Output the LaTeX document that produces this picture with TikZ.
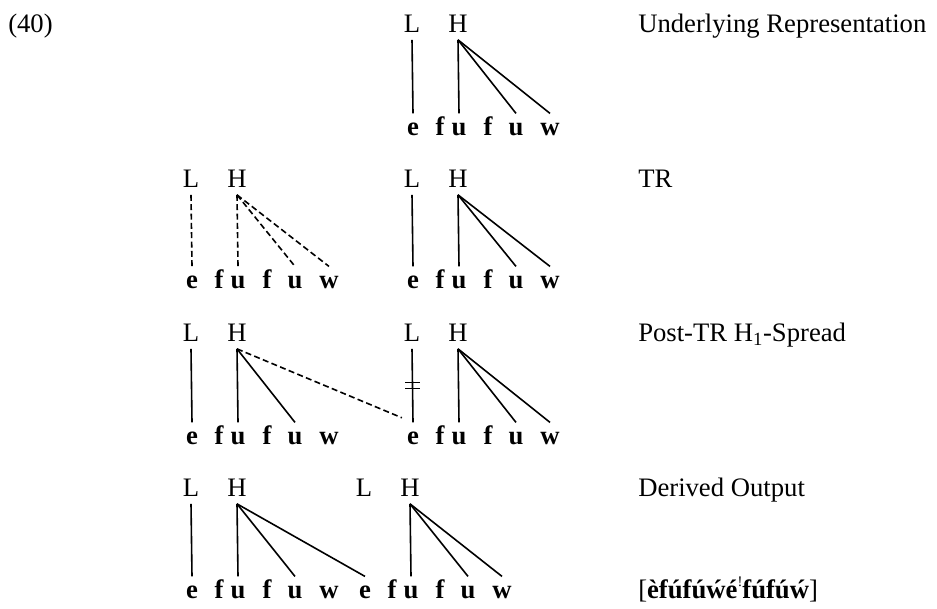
\documentclass[tikz,border=0pt]{standalone}
\usepackage{fontspec}
\setmainfont{Liberation Serif}
\usepackage{tikz}
\usetikzlibrary{calc}

\newcommand\diafont{\fontsize{20}{24}\selectfont}
% tones L and H of one word: prefix, x of e, baseline
\newcommand\tones[3]{%
	\node[tone] (#1L) at (#2-1, #3) {L};
	\node[tone] (#1H) at (#2+45, #3) {H};}
% segments e fu f u w: prefix, x of e, baseline
\newcommand\segs[3]{%
	\node[seg] (#1e) at (#2, #3) {e};
	\node[seg] (#1f) at (#2+27, #3) {f};
	\node[seg] (#1u) at (#2+46, #3) {u};
	\node[seg] (#1g) at (#2+75, #3) {f};
	\node[seg] (#1v) at (#2+103, #3) {u};
	\node[seg] (#1w) at (#2+137, #3) {w};}

\tikzset{
	tone/.style={inner sep=0pt, anchor=base, text depth=5.7pt},
	seg/.style={inner sep=0pt, anchor=base, font=\diafont\bfseries, text height=16pt},
	label/.style={inner sep=0pt, anchor=base west},
	assoc/.style={line width=1.2pt},
	newassoc/.style={line width=1.2pt, dash pattern=on 4.5pt off 2.5pt}
}

\begin{document}
\begin{tikzpicture}[x=0.75pt, y=-0.75pt, font=\diafont]
		%%%%% START %%%%%
		\useasboundingbox (0, 0) rectangle (937, 608);
		
		\node[label] (num) at (8, 32) {(40)};
		
		% underlying representation
		\tones{ur}{413}{32}
		\segs{ur}{413}{135}
		\draw[assoc] (urL.south) -- (ure.north);
		\draw[assoc] (urH.south) -- (uru.north);
		\draw[assoc] (urH.south) -- (urv.north);
		\draw[assoc] (urH.south) -- (urw.north);
		\node[label] (lab1) at (638, 32) {Underlying Representation};
		
		% TR
		\tones{tl}{192}{187}
		\segs{tl}{192}{288}
		\draw[newassoc] (tlL.south) -- (tle.north);
		\draw[newassoc] (tlH.south) -- (tlu.north);
		\draw[newassoc] (tlH.south) -- (tlv.north);
		\draw[newassoc] (tlH.south) -- (tlw.north);
		
		\tones{tr}{413}{187}
		\segs{tr}{413}{288}
		\draw[assoc] (trL.south) -- (tre.north);
		\draw[assoc] (trH.south) -- (tru.north);
		\draw[assoc] (trH.south) -- (trv.north);
		\draw[assoc] (trH.south) -- (trw.north);
		\node[label] (lab2) at (638, 187) {TR};
		
		% post-TR H1-spread
		\tones{sl}{192}{341}
		\segs{sl}{192}{444}
		\draw[assoc] (slL.south) -- (sle.north);
		\draw[assoc] (slH.south) -- (slu.north);
		\draw[assoc] (slH.south) -- (slv.north);
		
		\tones{sr}{413}{341}
		\segs{sr}{413}{444}
		\draw[assoc] (srL.south) -- (sre.north) coordinate[pos=0.5] (cut);
		\draw[assoc] ([shift={(-7.5, -3)}]cut) -- ++(15, 0);
		\draw[assoc] ([shift={(-7.5, 3)}]cut) -- ++(15, 0);
		\draw[assoc] (srH.south) -- (sru.north);
		\draw[assoc] (srH.south) -- (srv.north);
		\draw[assoc] (srH.south) -- (srw.north);
		\draw[newassoc, shorten >=9pt] (slH.south) -- (sre.north);
		\node[label] (lab3) at (638, 341) {Post-TR H\textsubscript{1}-Spread};
		
		% derived output
		\tones{ol}{192}{496}
		\segs{ol}{192}{598}
		\draw[assoc] (olL.south) -- (ole.north);
		\draw[assoc] (olH.south) -- (olu.north);
		\draw[assoc] (olH.south) -- (olv.north);
		
		\tones{or}{365}{496}
		\segs{or}{365}{598}
		\draw[assoc] (olH.south) -- (ore.north);
		\draw[assoc] (orH.south) -- (oru.north);
		\draw[assoc] (orH.south) -- (orv.north);
		\draw[assoc] (orH.south) -- (orw.north);
		\node[label] (lab4) at (638, 496) {Derived Output};
		\node[label] (out) at (638, 598) {[\textbf{èfúfúẃé}\raisebox{0.45em}{\fontsize{11}{11}\selectfont !}\textbf{fúfúẃ}]};
		
		%%%%% END %%%%%
\end{tikzpicture}
\end{document}
